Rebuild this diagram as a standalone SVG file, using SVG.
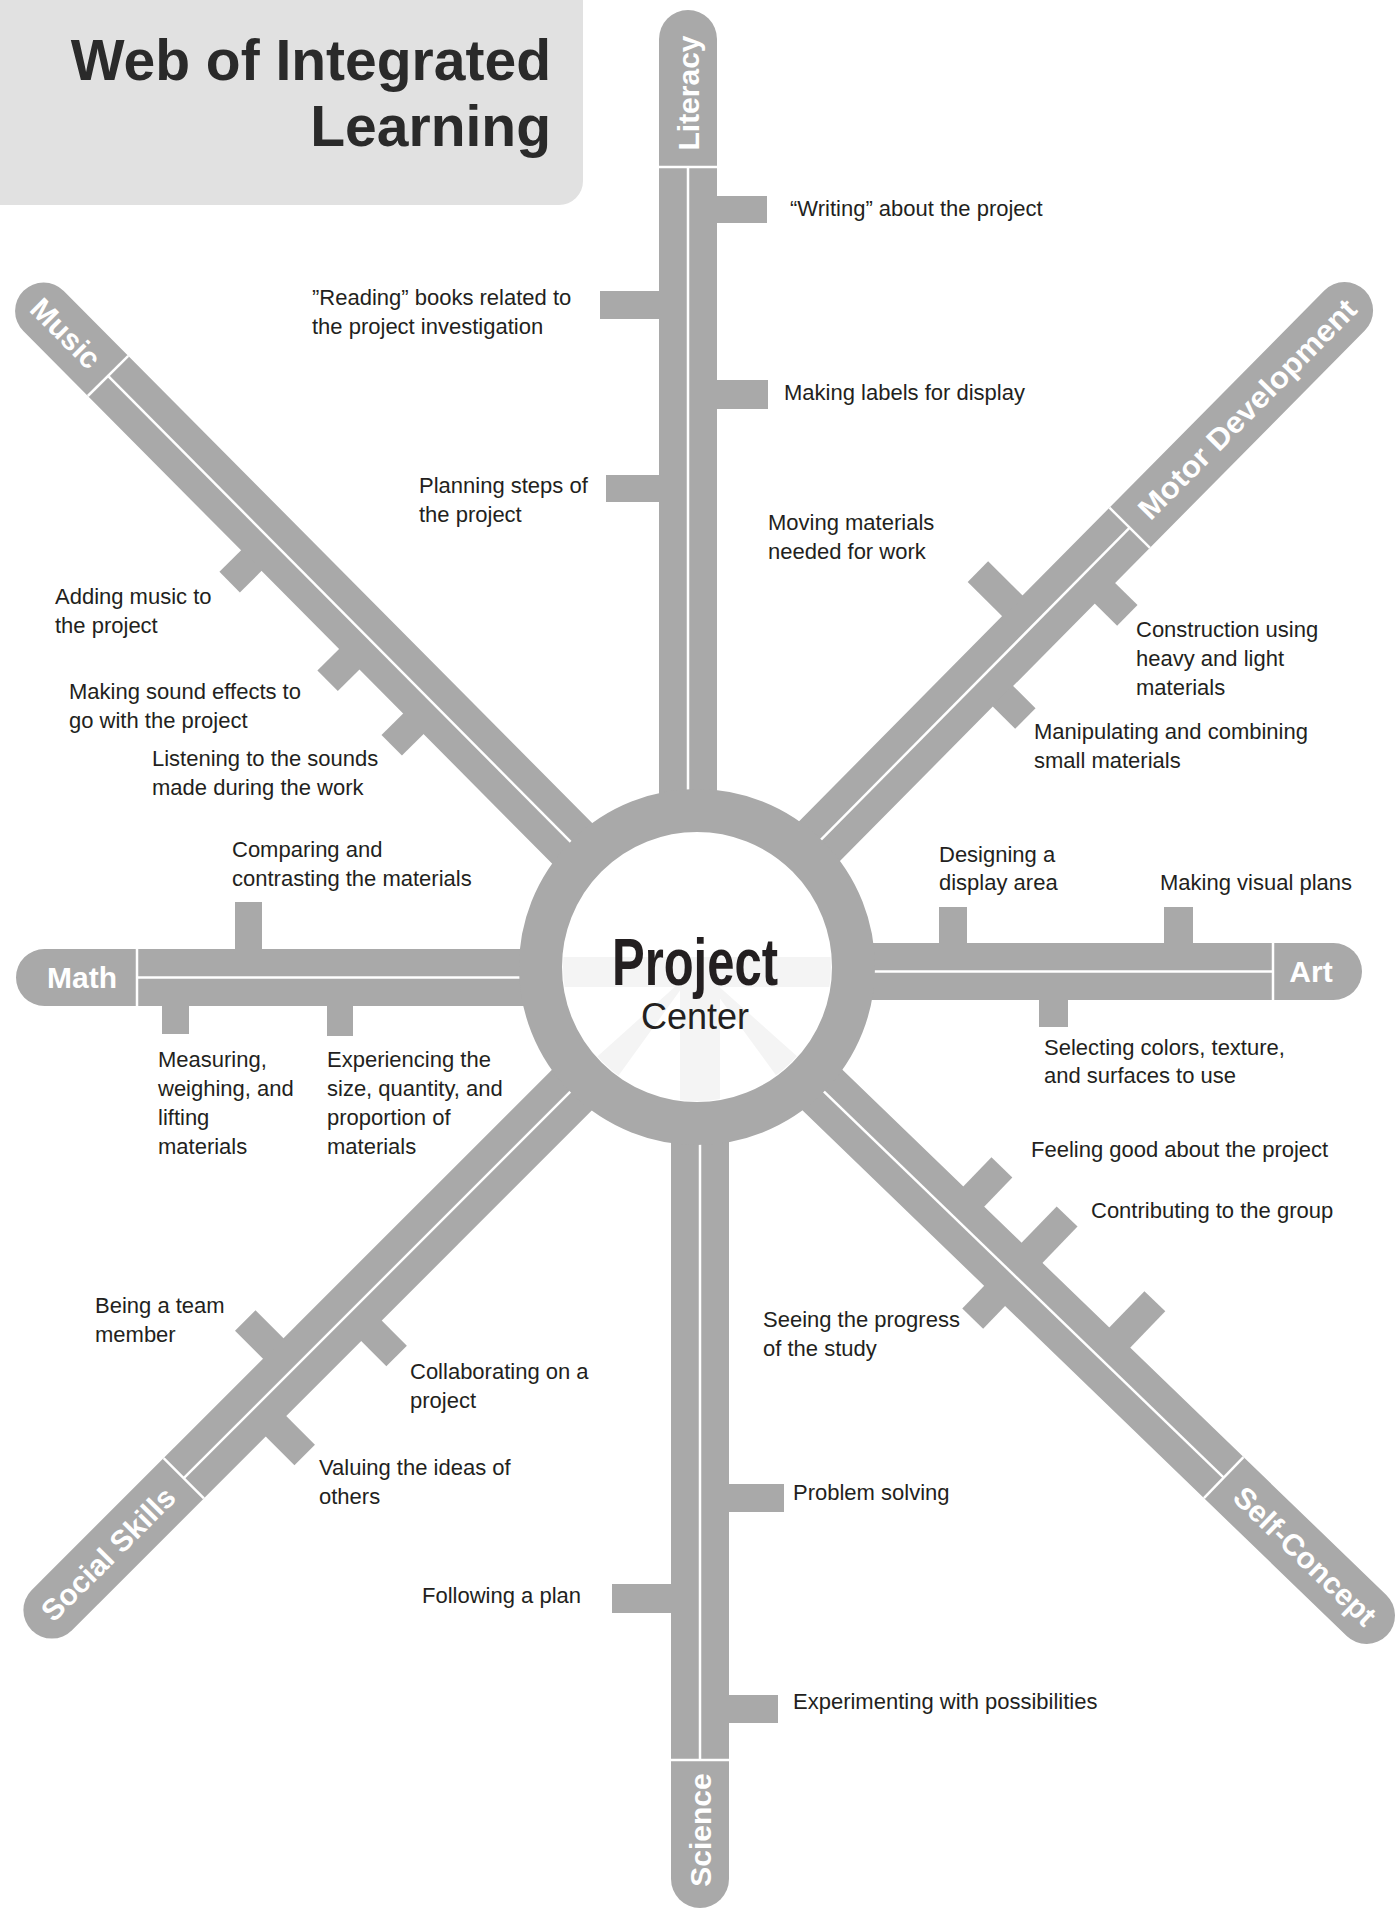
<svg xmlns="http://www.w3.org/2000/svg" width="1398" height="1911" viewBox="0 0 1398 1911">
  <defs>
    <style>
      .bar { fill: #a9a9a9; }
      .tick { fill: #a9a9a9; }
      .rule { stroke: #ffffff; stroke-width: 2.5; fill: none; }
      .lbl { font-family: "Liberation Sans", Arial, sans-serif; font-size: 22px; fill: #231f20; }
      .cat { font-family: "Liberation Sans", Arial, sans-serif; font-size: 30px; font-weight: bold; fill: #ffffff; text-anchor: middle; }
      .title { font-family: "Liberation Sans", Arial, sans-serif; font-size: 57px; font-weight: bold; fill: #2a2a2a; text-anchor: end; }
      .ray { fill: #f4f4f4; }
    </style>
    <clipPath id="hub-clip">
      <circle cx="697" cy="967" r="134"/>
    </clipPath>
  </defs>

  <rect width="1398" height="1911" fill="#ffffff"/>

  <!-- title panel -->
  <g id="title">
    <rect x="-30" y="-30" width="613" height="235" rx="24" fill="#e1e1e1"/>
    <text class="title" x="551" y="80">Web of Integrated</text>
    <text class="title" x="551" y="146">Learning</text>
  </g>

  <!-- spokes: bars, separators, centre rules and branch ticks -->
  <g id="connectors">
    <!-- Literacy (up) -->
    <g id="spoke-literacy">
      <path class="bar" d="M659,900 V39 A29,29 0 0 1 717,39 V900 Z"/>
      <rect class="tick" x="716" y="196" width="51" height="27"/>
      <rect class="tick" x="600" y="291" width="60" height="28"/>
      <rect class="tick" x="716" y="380" width="52" height="29"/>
      <rect class="tick" x="606" y="475" width="54" height="27"/>
      <line class="rule" x1="659" y1="167" x2="717" y2="167"/>
      <line class="rule" x1="688" y1="167" x2="688" y2="900"/>
    </g>
    <!-- Science (down) -->
    <g id="spoke-science">
      <path class="bar" d="M671,1000 V1879 A29,29 0 0 0 729,1879 V1000 Z"/>
      <rect class="tick" x="728" y="1484" width="56" height="28"/>
      <rect class="tick" x="612" y="1584" width="60" height="29"/>
      <rect class="tick" x="728" y="1695" width="50" height="28"/>
      <line class="rule" x1="671" y1="1760" x2="729" y2="1760"/>
      <line class="rule" x1="700" y1="1000" x2="700" y2="1760"/>
    </g>
    <!-- Math (left) -->
    <g id="spoke-math">
      <path class="bar" d="M700,949 H44.5 A28.5,28.5 0 0 0 44.5,1006 H700 Z"/>
      <rect class="tick" x="235" y="902" width="27" height="48"/>
      <rect class="tick" x="162" y="1005" width="27" height="29"/>
      <rect class="tick" x="327" y="1005" width="26" height="31"/>
      <line class="rule" x1="137" y1="949" x2="137" y2="1006"/>
      <line class="rule" x1="137" y1="977.5" x2="700" y2="977.5"/>
    </g>
    <!-- Art (right) -->
    <g id="spoke-art">
      <path class="bar" d="M700,943 H1333.5 A28.5,28.5 0 0 1 1333.5,1000 H700 Z"/>
      <rect class="tick" x="939" y="907" width="28" height="37"/>
      <rect class="tick" x="1164" y="907" width="29" height="37"/>
      <rect class="tick" x="1039" y="999" width="29" height="28"/>
      <line class="rule" x1="1273" y1="943" x2="1273" y2="1000"/>
      <line class="rule" x1="700" y1="971.5" x2="1273" y2="971.5"/>
    </g>
    <!-- Music (upper left) -->
    <g id="spoke-music" transform="translate(695,967) rotate(-134.8)">
      <path class="bar" d="M0,-28.5 H924.5 A28.5,28.5 0 0 1 924.5,28.5 H0 Z"/>
      <rect class="tick" x="586.5" y="-59" width="29" height="32"/>
      <rect class="tick" x="447.5" y="-59" width="29" height="32"/>
      <rect class="tick" x="356.5" y="-59" width="29" height="32"/>
      <line class="rule" x1="833" y1="-28.5" x2="833" y2="28.5"/>
      <line class="rule" x1="0" y1="0" x2="833" y2="0"/>
    </g>
    <!-- Motor Development (upper right) -->
    <g id="spoke-motor" transform="translate(695,967) rotate(-45.3)">
      <path class="bar" d="M0,-28.5 H923.5 A28.5,28.5 0 0 1 923.5,28.5 H0 Z"/>
      <rect class="tick" x="465.5" y="-77" width="29" height="50"/>
      <rect class="tick" x="539.5" y="27" width="29" height="33"/>
      <rect class="tick" x="394.5" y="27" width="29" height="33"/>
      <line class="rule" x1="618" y1="-28.5" x2="618" y2="28.5"/>
      <line class="rule" x1="0" y1="0" x2="618" y2="0"/>
    </g>
    <!-- Self-Concept (lower right) -->
    <g id="spoke-self" transform="translate(695,967) rotate(44)">
      <path class="bar" d="M0,-28.5 H933.5 A28.5,28.5 0 0 1 933.5,28.5 H0 Z"/>
      <rect class="tick" x="345.5" y="-69" width="29" height="42"/>
      <rect class="tick" x="426.5" y="-79" width="29" height="52"/>
      <rect class="tick" x="429.5" y="27" width="29" height="33"/>
      <rect class="tick" x="548.5" y="-79" width="29" height="52"/>
      <line class="rule" x1="735" y1="-28.5" x2="735" y2="28.5"/>
      <line class="rule" x1="0" y1="0" x2="735" y2="0"/>
    </g>
    <!-- Social Skills (lower left) -->
    <g id="spoke-social" transform="translate(695,967) rotate(135)">
      <path class="bar" d="M0,-28.5 H909.5 A28.5,28.5 0 0 1 909.5,28.5 H0 Z"/>
      <rect class="tick" x="553.5" y="27" width="29" height="41"/>
      <rect class="tick" x="471.5" y="-64" width="29" height="37"/>
      <rect class="tick" x="606.5" y="-69" width="29" height="42"/>
      <line class="rule" x1="723" y1="-28.5" x2="723" y2="28.5"/>
      <line class="rule" x1="0" y1="0" x2="723" y2="0"/>
    </g>
  </g>

  <!-- hub -->
  <g id="hub">
    <circle cx="697" cy="967" r="156.5" fill="#ffffff" stroke="#a9a9a9" stroke-width="43"/>
    <g clip-path="url(#hub-clip)">
      <rect class="ray" x="540" y="957" width="320" height="30"/>
      <rect class="ray" x="680" y="980" width="40" height="140"/>
      <path class="ray" d="M697,967 L560,1090 L590,1115 Z"/>
      <path class="ray" d="M697,967 L835,1090 L805,1115 Z"/>
    </g>
    <text x="695" y="985" font-family="'Liberation Sans', Arial, sans-serif" font-size="66" font-weight="bold" fill="#231f20" text-anchor="middle" textLength="166" lengthAdjust="spacingAndGlyphs">Project</text>
    <text x="695" y="1029" font-family="'Liberation Sans', Arial, sans-serif" font-size="36" fill="#231f20" text-anchor="middle">Center</text>
  </g>

  <!-- category names on the bar ends -->
  <g id="node-literacy"><text class="cat" transform="translate(688,93) rotate(-90)" dy="0.35em">Literacy</text></g>
  <g id="node-science"><text class="cat" transform="translate(700,1830) rotate(-90)" dy="0.35em">Science</text></g>
  <g id="node-math"><text class="cat" x="82" y="988">Math</text></g>
  <g id="node-art"><text class="cat" x="1311" y="982">Art</text></g>
  <g id="node-music"><text class="cat" transform="translate(695,967) rotate(-134.8) translate(893,0) rotate(180)" dy="0.35em">Music</text></g>
  <g id="node-motor"><text class="cat" transform="translate(695,967) rotate(-45.3) translate(785,0)" dy="0.35em" textLength="296" lengthAdjust="spacingAndGlyphs">Motor Development</text></g>
  <g id="node-self"><text class="cat" transform="translate(695,967) rotate(44) translate(848,0)" dy="0.35em">Self-Concept</text></g>
  <g id="node-social"><text class="cat" transform="translate(695,967) rotate(135) translate(830,0) rotate(180)" dy="0.35em">Social Skills</text></g>

  <!-- activity labels -->
  <g id="lit-writing"><text class="lbl" x="790" y="216">“Writing” about the project</text></g>
  <g id="lit-reading"><text class="lbl" x="312" y="305">”Reading” books related to<tspan x="312" dy="29">the project investigation</tspan></text></g>
  <g id="lit-labels"><text class="lbl" x="784" y="400">Making labels for display</text></g>
  <g id="lit-planning"><text class="lbl" x="419" y="493">Planning steps of<tspan x="419" dy="29">the project</tspan></text></g>

  <g id="motor-moving"><text class="lbl" x="768" y="530">Moving materials<tspan x="768" dy="29">needed for work</tspan></text></g>
  <g id="motor-construction"><text class="lbl" x="1136" y="637">Construction using<tspan x="1136" dy="29">heavy and light</tspan><tspan x="1136" dy="29">materials</tspan></text></g>
  <g id="motor-manipulating"><text class="lbl" x="1034" y="739">Manipulating and combining<tspan x="1034" dy="29">small materials</tspan></text></g>

  <g id="music-adding"><text class="lbl" x="55" y="604">Adding music to<tspan x="55" dy="29">the project</tspan></text></g>
  <g id="music-effects"><text class="lbl" x="69" y="699">Making sound effects to<tspan x="69" dy="29">go with the project</tspan></text></g>
  <g id="music-listening"><text class="lbl" x="152" y="766">Listening to the sounds<tspan x="152" dy="29">made during the work</tspan></text></g>

  <g id="math-comparing"><text class="lbl" x="232" y="857">Comparing and<tspan x="232" dy="29">contrasting the materials</tspan></text></g>
  <g id="math-measuring"><text class="lbl" x="158" y="1067">Measuring,<tspan x="158" dy="29">weighing, and</tspan><tspan x="158" dy="29">lifting</tspan><tspan x="158" dy="29">materials</tspan></text></g>
  <g id="math-experiencing"><text class="lbl" x="327" y="1067">Experiencing the<tspan x="327" dy="29">size, quantity, and</tspan><tspan x="327" dy="29">proportion of</tspan><tspan x="327" dy="29">materials</tspan></text></g>

  <g id="art-designing"><text class="lbl" x="939" y="862">Designing a<tspan x="939" dy="28">display area</tspan></text></g>
  <g id="art-visual"><text class="lbl" x="1160" y="890">Making visual plans</text></g>
  <g id="art-selecting"><text class="lbl" x="1044" y="1055">Selecting colors, texture,<tspan x="1044" dy="28">and surfaces to use</tspan></text></g>

  <g id="self-feeling"><text class="lbl" x="1031" y="1157">Feeling good about the project</text></g>
  <g id="self-contributing"><text class="lbl" x="1091" y="1218">Contributing to the group</text></g>
  <g id="self-seeing"><text class="lbl" x="763" y="1327">Seeing the progress<tspan x="763" dy="29">of the study</tspan></text></g>

  <g id="social-team"><text class="lbl" x="95" y="1313">Being a team<tspan x="95" dy="29">member</tspan></text></g>
  <g id="social-collab"><text class="lbl" x="410" y="1379">Collaborating on a<tspan x="410" dy="29">project</tspan></text></g>
  <g id="social-valuing"><text class="lbl" x="319" y="1475">Valuing the ideas of<tspan x="319" dy="29">others</tspan></text></g>

  <g id="sci-problem"><text class="lbl" x="793" y="1500">Problem solving</text></g>
  <g id="sci-plan"><text class="lbl" x="422" y="1603">Following a plan</text></g>
  <g id="sci-experimenting"><text class="lbl" x="793" y="1709">Experimenting with possibilities</text></g>
</svg>
